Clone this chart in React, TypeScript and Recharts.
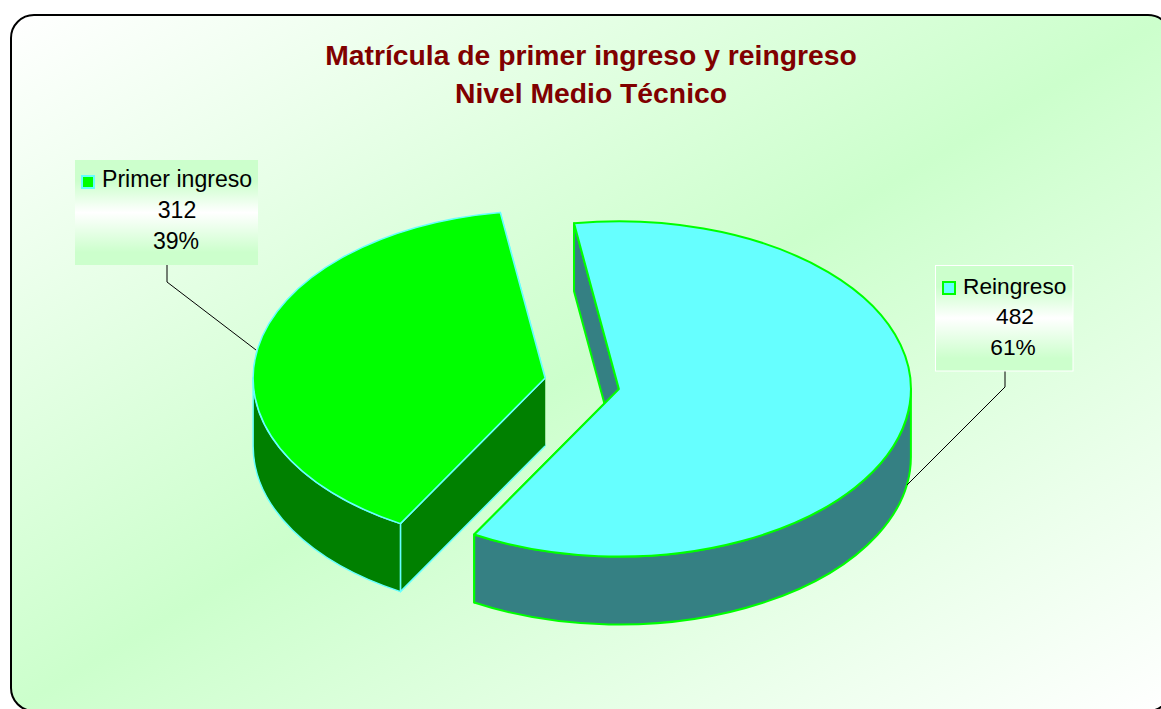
import { PieChart, Pie } from "recharts";

const categories = ["Primer ingreso", "Reingreso"];
const values = [312, 482];
const titleLines = ["Matrícula de primer ingreso y reingreso", "Nivel Medio Técnico"];

const topFills = ["#00FF00", "#66FFFF"];
const sideFills = ["#008000", "#358083"];
const edgeColors = ["#66FFFF", "#00FF00"];
const edgeWidths = [1.5, 2];

const tableData = categories.map((name, i) => ({ name, value: values[i] }));

// flattened pie: 293 wide radius, squashed to 168 and extruded by 68
const SQUASH = 0.574;
const DEPTH = 68;
const EXPLODE = 37.5;
const EXPLODE_Y = 1.4;

// label boxes sit where Excel put them
const boxes = [
  { x: 75, y: 160, w: 183, h: 105, keyX: 82, keyY: 176, textX: 102, nameY: 187, size: 23.1, valueX: 177, valueY: 218, pctX: 176, pctY: 249, border: "none", line: "167,265 167,282 256,350" },
  { x: 935.5, y: 265.5, w: 137.5, h: 105.5, keyX: 943, keyY: 282, textX: 963, nameY: 294, size: 22.7, valueX: 1015, valueY: 324, pctX: 1013, pctY: 355, border: "#FFFFFF", line: "1005,371 1005,387 907,485" },
];

const rad = (d: number) => (d * Math.PI) / 180;

function Slice3D(props: any) {
  const { cx, cy, outerRadius, startAngle, endAngle, name } = props;
  const i = categories.indexOf(name);
  const rx = outerRadius;
  const ry = outerRadius * SQUASH;
  // angles clockwise from 12 o'clock
  const t0 = 90 - startAngle;
  const t1 = 90 - endAngle;
  const mid = (t0 + t1) / 2;
  const ax = cx + EXPLODE * Math.sin(rad(mid));
  const ay = cy - EXPLODE * SQUASH * EXPLODE_Y * Math.cos(rad(mid));
  const pt = (t: number, drop = 0) => `${ax + rx * Math.sin(rad(t))},${ay - ry * Math.cos(rad(t)) + drop}`;

  const wall = (t: number) => `M${ax},${ay} L${pt(t)} L${pt(t, DEPTH)} L${ax},${ay + DEPTH}`;

  // only the front half of the rim can be seen
  const rims: string[] = [];
  for (let k = -1; k < 3; k++) {
    const a = Math.max(t0, 90 + 360 * k);
    const b = Math.min(t1, 270 + 360 * k);
    if (b > a) {
      rims.push(
        `M${pt(a)} A${rx} ${ry} 0 0 1 ${pt(b)} L${pt(b, DEPTH)} A${rx} ${ry} 0 0 0 ${pt(a, DEPTH)} Z`
      );
    }
  }

  const large = t1 - t0 > 180 ? 1 : 0;
  const top = `M${ax},${ay} L${pt(t0)} A${rx} ${ry} 0 ${large} 1 ${pt(t1)} Z`;
  const edge = { stroke: edgeColors[i], strokeWidth: edgeWidths[i], strokeLinejoin: "round" as const };

  return (
    <g>
      <path d={wall(t1)} fill={sideFills[i]} {...edge} />
      <path d={wall(t0)} fill={sideFills[i]} {...edge} />
      {rims.map((d) => (
        <path key={d} d={d} fill={sideFills[i]} {...edge} />
      ))}
      <path d={top} fill={topFills[i]} {...edge} />
    </g>
  );
}

function SliceLabel(props: any) {
  const i = categories.indexOf(props.name);
  const b = boxes[i];
  const txt = { fontFamily: "Liberation Sans", fontSize: b.size, fill: "#000000" };
  return (
    <g>
      <defs>
        <linearGradient id={`labelFill${i}`} x1="0" y1="0" x2="0" y2="1">
          <stop offset="0.2" stopColor="#CCFFCC" />
          <stop offset="0.5" stopColor="#FFFFFF" />
          <stop offset="0.88" stopColor="#CCFFCC" />
        </linearGradient>
      </defs>
      <rect x={b.x} y={b.y} width={b.w} height={b.h} fill={`url(#labelFill${i})`} stroke={b.border} />
      <rect x={b.keyX} y={b.keyY} width={12} height={12} fill={topFills[i]} stroke={edgeColors[i]} strokeWidth={2} />
      <text x={b.textX} y={b.nameY} {...txt}>{props.name}</text>
      <text x={b.valueX} y={b.valueY} textAnchor="middle" {...txt}>{props.value}</text>
      <text x={b.pctX} y={b.pctY} textAnchor="middle" {...txt}>{`${Math.round(props.percent * 100)}%`}</text>
    </g>
  );
}

function LeaderLine(props: any) {
  const b = boxes[categories.indexOf(props.name)];
  return <polyline points={b.line} fill="none" stroke="#000000" strokeWidth={1} />;
}

export default function App() {
  return (
    <div style={{ position: "absolute", left: 0, top: 0, width: 1161, height: 709, overflow: "hidden", background: "#FFFFFF" }}>
      <div
        style={{
          position: "absolute",
          left: 10,
          top: 14,
          width: 1162,
          height: 698,
          boxSizing: "border-box",
          border: "2px solid #000000",
          borderRadius: 24,
          background: "linear-gradient(to bottom right, #FFFFFF 0%, #CCFFCC 50%, #FFFFFF 100%)",
        }}
      />
      <div style={{ position: "absolute", left: 0, top: 0 }}>
        <PieChart width={1161} height={709} margin={{ top: 0, right: 0, bottom: 0, left: 0 }}>
          <Pie
            data={tableData}
            dataKey="value"
            nameKey="name"
            cx={582}
            cy={383.5}
            innerRadius={0}
            outerRadius={292}
            startAngle={-119.7}
            endAngle={-479.7}
            stroke="none"
            shape={Slice3D}
            label={SliceLabel}
            labelLine={LeaderLine}
            isAnimationActive={false}
          />
        </PieChart>
      </div>
      {titleLines.map((line, i) => (
        <div
          key={line}
          style={{
            position: "absolute",
            left: 0,
            width: 1182,
            top: 39 + i * 38,
            textAlign: "center",
            fontFamily: "Liberation Sans",
            fontWeight: "bold",
            fontSize: 28.3,
            lineHeight: "32px",
            color: "#800000",
            whiteSpace: "nowrap",
          }}
        >
          {line}
        </div>
      ))}
    </div>
  );
}
